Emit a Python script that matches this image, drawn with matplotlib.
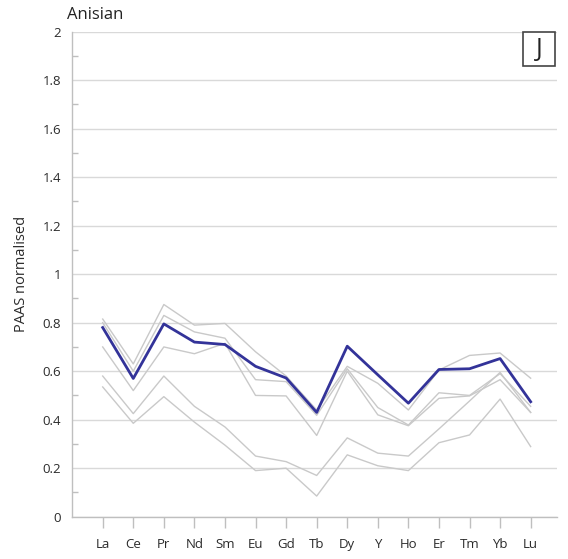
import matplotlib
matplotlib.use("Agg")
import matplotlib.pyplot as plt
from matplotlib.patches import Rectangle
from matplotlib.ticker import MultipleLocator

plt.rcParams['font.family'] = ['Open Sans', 'DejaVu Sans']

# REE pattern, PAAS normalised
elements = ['La', 'Ce', 'Pr', 'Nd', 'Sm', 'Eu', 'Gd', 'Tb', 'Dy', 'Y', 'Ho', 'Er', 'Tm', 'Yb', 'Lu']

mean_anisian = [0.78, 0.57, 0.795, 0.72, 0.71, 0.62, 0.572, 0.43, 0.703, 0.585, 0.468, 0.607, 0.61, 0.652, 0.474]

sample_1 = [0.815, 0.63, 0.875, 0.79, 0.797, 0.68, 0.58, 0.44, 0.62, 0.55, 0.44, 0.605, 0.665, 0.675, 0.571]
sample_2 = [0.80, 0.60, 0.83, 0.762, 0.736, 0.565, 0.557, 0.418, 0.61, 0.45, 0.378, 0.511, 0.50, 0.59, 0.455]
sample_3 = [0.70, 0.52, 0.70, 0.672, 0.715, 0.50, 0.498, 0.335, 0.60, 0.42, 0.375, 0.488, 0.498, 0.565, 0.43]
sample_4 = [0.58, 0.425, 0.58, 0.455, 0.37, 0.25, 0.227, 0.17, 0.325, 0.262, 0.25, 0.362, 0.477, 0.595, 0.43]
sample_5 = [0.535, 0.385, 0.495, 0.39, 0.295, 0.19, 0.20, 0.085, 0.255, 0.21, 0.19, 0.305, 0.337, 0.485, 0.289]

samples = [sample_1, sample_2, sample_3, sample_4, sample_5]

y_ticks = [0, 0.2, 0.4, 0.6, 0.8, 1.0, 1.2, 1.4, 1.6, 1.8, 2.0]
y_labels = ['0', '0.2', '0.4', '0.6', '0.8', '1', '1.2', '1.4', '1.6', '1.8', '2']

fig = plt.figure(figsize=(5.68, 5.59), dpi=100)
ax = fig.add_axes([0.127, 0.0757, 0.853, 0.8676])

x = list(range(1, len(elements) + 1))

for s in samples:
    ax.plot(x, s, color='#c9c9c9', lw=1.0, zorder=2)
ax.plot(x, mean_anisian, color='#333399', lw=2.0, zorder=3)

# axes formatting
ax.set_xlim(0, 15.85)
ax.set_xticks(x)
ax.set_xticklabels(elements)
ax.set_yticks(y_ticks)
ax.set_yticklabels(y_labels)
ax.yaxis.set_minor_locator(MultipleLocator(0.1))
ax.set_ylim(0, 2)

ax.grid(axis='y', which='major', color='#d9d9d9', lw=1.0, zorder=0)
ax.set_axisbelow(True)
for side in ['top', 'right']:
    ax.spines[side].set_visible(False)
for side in ['left', 'bottom']:
    ax.spines[side].set_color('#bfbfbf')
    ax.spines[side].set_linewidth(1.0)

ax.tick_params(axis='x', direction='out', length=8, width=1, color='#bfbfbf',
               pad=7, labelsize=9.5, labelcolor='#2b2b2b')
ax.tick_params(axis='y', which='major', length=0, pad=8, labelsize=9.5, labelcolor='#2b2b2b')
ax.tick_params(axis='y', which='minor', direction='in', length=4, width=1, color='#bfbfbf')

ax.set_ylabel('PAAS normalised', fontsize=10.5, color='#2b2b2b', labelpad=10)

fig.text(0.118, 0.958, 'Anisian', fontsize=12, color='#222222', ha='left', va='bottom')

# panel letter in a framed box, top right
fig.patches.append(Rectangle((0.921, 0.882), 0.0563, 0.0608, transform=fig.transFigure,
                             facecolor='white', edgecolor='#444444', lw=1.2, zorder=5))
fig.text(0.949, 0.911, 'J', ha='center', va='center', fontsize=18, color='#222222', zorder=6)

fig.savefig('out.png', dpi=100)
